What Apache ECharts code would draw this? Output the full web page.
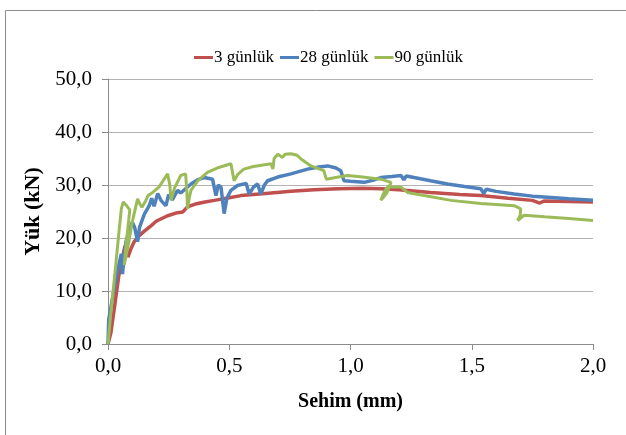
<!DOCTYPE html>
<html>
<head>
<meta charset="utf-8">
<script src="https://cdn.jsdelivr.net/npm/echarts@6/dist/echarts.min.js"></script>
<style>html,body{margin:0;padding:0;background:#fff}#c{width:626px;height:435px}</style>
</head>
<body>
<div id="c"></div>
<script>
const seriesNames = ['3 günlük', '28 günlük', '90 günlük'];
const xTicks = [0, 0.5, 1.0, 1.5, 2.0];
const yTicks = [0, 10, 20, 30, 40, 50];

const data3 = [[0,0],[0.012,2.1],[0.03,8],[0.045,13],[0.06,16.4],[0.07,18.5],[0.078,17.5],[0.082,16.4],[0.095,18],[0.108,19.3],[0.13,20.5],[0.15,21.3],[0.177,22.3],[0.2,23.2],[0.246,24.2],[0.28,24.7],[0.308,24.9],[0.32,25.5],[0.328,25.9],[0.36,26.4],[0.4,26.8],[0.438,27.1],[0.5,27.6],[0.548,28.0],[0.65,28.4],[0.754,28.8],[0.85,29.1],[0.95,29.3],[1.05,29.4],[1.125,29.3],[1.2,29.1],[1.331,28.6],[1.45,28.2],[1.537,28.0],[1.65,27.5],[1.75,27.1],[1.78,26.6],[1.8,27.0],[1.9,26.9],[2.0,26.8]];

const data28 = [[0,0],[0.003,4.6],[0.02,9],[0.04,14],[0.055,17],[0.06,13.2],[0.065,16],[0.075,19.5],[0.088,21.4],[0.1,23],[0.11,22],[0.122,19.3],[0.13,22],[0.15,24.5],[0.17,26.1],[0.18,27.5],[0.19,26],[0.205,28.4],[0.22,27],[0.239,26.1],[0.25,28.2],[0.265,27.2],[0.287,29],[0.3,28.5],[0.342,30.2],[0.37,31],[0.397,31.4],[0.431,31.1],[0.445,28],[0.455,30],[0.466,29.6],[0.479,24.6],[0.49,27.5],[0.507,29],[0.534,29.9],[0.57,30.3],[0.582,28.3],[0.6,29.6],[0.617,30.2],[0.63,28.3],[0.645,30],[0.658,30.8],[0.7,31.5],[0.754,32.1],[0.823,33.0],[0.87,33.4],[0.906,33.6],[0.94,33.2],[0.96,32.7],[0.973,30.8],[1.0,30.7],[1.056,30.5],[1.1,31.0],[1.125,31.4],[1.17,31.6],[1.208,31.8],[1.22,31.0],[1.23,31.7],[1.262,31.4],[1.33,30.8],[1.4,30.2],[1.47,29.7],[1.537,29.3],[1.55,28.4],[1.56,29.2],[1.6,28.8],[1.675,28.3],[1.75,27.9],[1.813,27.7],[1.9,27.4],[2.0,27.1]];

const data90 = [[0,0],[0.01,5],[0.03,14],[0.045,21],[0.055,25.5],[0.063,26.8],[0.075,26.2],[0.09,25.3],[0.075,19],[0.067,14.9],[0.085,19],[0.1,23],[0.115,26],[0.122,27.4],[0.13,26.5],[0.14,25.8],[0.155,27],[0.165,28],[0.184,28.6],[0.21,29.6],[0.23,31],[0.246,32.1],[0.255,30],[0.26,27.1],[0.275,29.5],[0.3,31.8],[0.32,32.1],[0.325,29],[0.328,25.5],[0.335,27.5],[0.342,29],[0.37,30.8],[0.41,32.4],[0.45,33.2],[0.507,34.0],[0.515,32],[0.52,30.8],[0.535,32],[0.56,33.0],[0.6,33.5],[0.672,34.0],[0.68,33],[0.685,35],[0.7,35.8],[0.72,35.2],[0.73,35.8],[0.754,35.9],[0.78,35.6],[0.796,34.9],[0.837,33.6],[0.89,32.7],[0.9,31.1],[0.95,31.5],[0.988,31.8],[1.05,31.5],[1.125,31.1],[1.167,30.5],[1.15,28.5],[1.125,27.1],[1.14,28.8],[1.153,29.6],[1.208,29.6],[1.235,28.6],[1.304,28.0],[1.414,27.1],[1.537,26.5],[1.675,26.1],[1.702,25.5],[1.7,24.3],[1.689,23.3],[1.716,24.3],[1.8,24.0],[1.9,23.7],[2.0,23.3]];

const colors = ['#C0504D', '#4F81BD', '#9BBB59'];
const widths = [3.5, 3.5, 3];
const FONT = 'Liberation Serif';
const fmt = v => v.toFixed(1).replace('.', ',');

const chart = echarts.init(document.getElementById('c'), null, {renderer: 'canvas'});
const allData = [data3, data28, data90];
chart.setOption({
  animation: false,
  backgroundColor: '#fff',
  color: colors,
  graphic: [{
    type: 'rect', shape: {x: 5.5, y: 10.5, width: 700, height: 500},
    style: {fill: 'none', stroke: '#8c8c8c', lineWidth: 1}, silent: true
  }],
  legend: {
    left: 189, top: 44,
    itemWidth: 19, itemHeight: 3, itemGap: 6,
    icon: 'rect',
    textStyle: {fontFamily: FONT, fontSize: 17, color: '#000', padding: [0, 0, 0, -4]},
    data: seriesNames
  },
  grid: {left: 108, right: 33, top: 79, bottom: 91, containLabel: false},
  xAxis: {
    type: 'value', min: xTicks[0], max: xTicks[xTicks.length - 1], interval: 0.5,
    name: 'Sehim (mm)', nameLocation: 'middle', nameGap: 48,
    nameTextStyle: {fontFamily: FONT, fontSize: 20, fontWeight: 'bold', color: '#000'},
    axisLine: {show: true, lineStyle: {color: '#8c8c8c', width: 1}},
    axisTick: {show: true, inside: false, length: 6, lineStyle: {color: '#8c8c8c'}},
    axisLabel: {fontFamily: FONT, fontSize: 21, color: '#000', margin: 12, formatter: fmt},
    splitLine: {show: false}
  },
  yAxis: {
    type: 'value', min: yTicks[0], max: yTicks[yTicks.length - 1], interval: 10,
    name: 'Yük (kN)', nameLocation: 'middle', nameGap: 61, nameRotate: 90,
    nameTextStyle: {fontFamily: FONT, fontSize: 22, fontWeight: 'bold', color: '#000'},
    axisLine: {show: true, lineStyle: {color: '#8c8c8c', width: 1}},
    axisTick: {show: true, inside: false, length: 6, lineStyle: {color: '#8c8c8c'}},
    axisLabel: {fontFamily: FONT, fontSize: 21, color: '#000', margin: 16, formatter: fmt},
    splitLine: {show: true, lineStyle: {color: '#b3b3b3', width: 1}}
  },
  series: seriesNames.map((n, i) => ({
    name: n, type: 'line', data: allData[i], showSymbol: false, symbol: 'none',
    lineStyle: {width: widths[i], color: colors[i]}, itemStyle: {color: colors[i]},
    z: i === 2 ? 3 : (i === 1 ? 2 : 1)
  }))
});
</script>
</body>
</html>
